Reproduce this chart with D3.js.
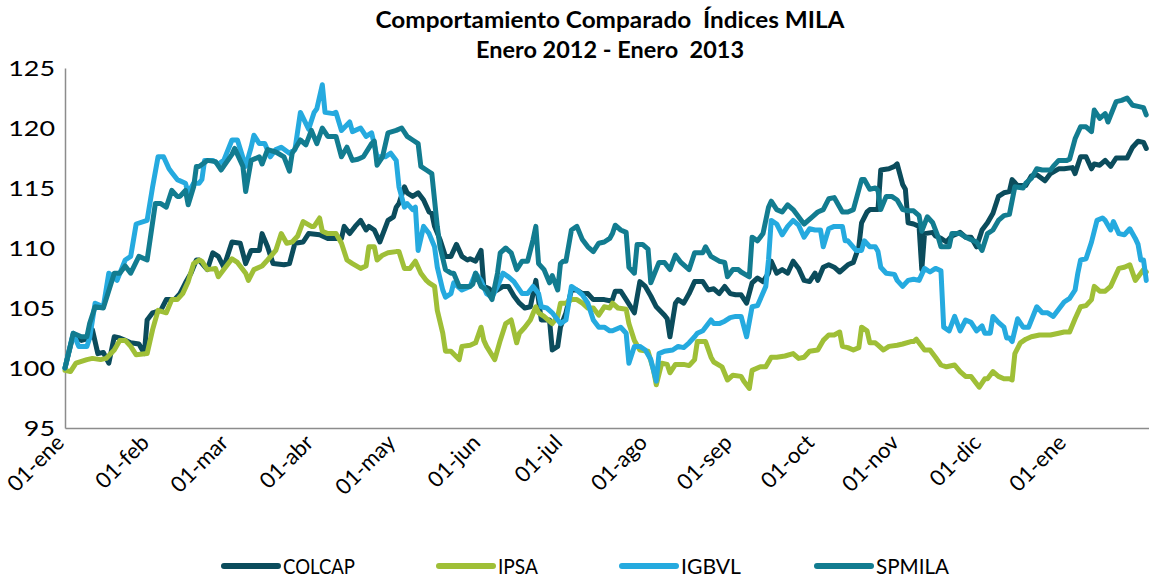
<!DOCTYPE html>
<html>
<head>
<meta charset="utf-8">
<script src="https://cdn.jsdelivr.net/npm/d3@7"></script>
<style>
  html, body { margin: 0; padding: 0; background: #fff; }
  svg { display: block; }
  text { font-family: Lato, "Open Sans", sans-serif; }
</style>
</head>
<body>
<svg id="chart" width="1149" height="578"></svg>
<script>
// ---------- DATA ----------
const titleLines = ["Comportamiento Comparado  Índices MILA", "Enero 2012 - Enero  2013"];
const seriesNames = ["COLCAP", "IPSA", "IGBVL", "SPMILA"];
const monthLabels = ["01-ene","01-feb","01-mar","01-abr","01-may","01-jun","01-jul","01-ago","01-sep","01-oct","01-nov","01-dic","01-ene"];
const yTicks = [95, 100, 105, 110, 115, 120, 125];
// [days since 01-ene-2012, index value]
const COLCAP = [[0,100],[3,102.75],[6,102.3],[9,102.5],[10,103.2],[12,101.2],[14,101.3],[16,100.4],[18,102.6],[20,102.5],[22,102.3],[24,102.1],[27,102],[29,101.2],[30,104],[32,104.6],[35,104.8],[37,105.7],[40,105.7],[42,106.2],[44,107.1],[46,107.9],[48,109],[49,109],
[52,108.2],[54,109.6],[56,109.3],[58,108.4],[61,110.5],[64,110.4],[66,108.7],[68,109.8],[71,109.8],[72,111.2],[74,110.1],[76,108.7],[80,108.6],[82,108.7],[84,110.4],[87,110.5],[89,111.2],[93,111.1],[96,110.8],[99,110.8],
[101,110.8],[102,111.8],[104,111.2],[106,111.8],[108,112.3],[110,111.5],[111,111.8],[113,111.5],[115,110.5],[118,112.3],[120,112.6],[121,113.4],[122,113.7],[124,115.1],[125,114.6],[127,114.3],[129,114.6],[131,114],[133,113],[134,112.9],[135,111.8],[137,110.7],[139,109.3],[141,109.3],[143,110.3],[145,109.3],[147,109],[148,109.1],
[150,108.9],[152,109.8],[153,106.8],[155,106.6],[156,106.3],[158,106.5],[160,106.8],[162,106.8],[164,106],[166,105.4],[168,105],[170,105.1],[172,107.3],[174,104],[177,104],[178,101.5],[180,101.8],[181,103.4],[183,104.6],[185,106.5],[187,106.5],[189,106.2],[191,106.2],[193,105.7],[195,105.7],[197,105.7],
[199,105.6],[200,105.7],[201,106.4],[203,106.4],[205,105.7],[208,104.6],[210,107.2],[212,106.8],[214,106],[216,105.1],[219,104.4],[220,104.1],[221,102.6],[223,105.4],[224,105.7],[226,105.4],[228,106.2],[230,107.2],[233,107.2],[235,106.5],[237,106.6],[239,106.2],[241,106.8],[243,106.2],[245,106.1],[247,106.1],
[249,105.4],[251,107.1],[253,107.5],[255,107.2],[257,107.9],[258,108.9],[260,107.9],[262,108.2],[264,107.9],[266,108.9],[268,108.3],[270,107.3],[272,107.2],[274,107.9],[275,107.3],[277,108.4],[279,108.6],[281,108.4],[283,108],[286,108.6],[288,108.8],[290,110.1],[291,112.1],[293,113],[294,113.2],
[297,113.2],[298,116.5],[301,116.6],[303,116.8],[304,117],[306,115.3],[307,114.9],[308,112.1],[310,112],[312,111.8],[313,108.2],[314,111.2],[317,111.3],[318,111],[320,110.8],[322,110.5],[324,111],[327,111.3],[329,110.9],[331,110.9],[333,110.1],[335,111.5],[337,112.1],[339,112.9],[341,114.3],[343,114.6],[345,114.7],
[346,115.7],[348,115.2],[351,115.2],[353,116],[355,116.1],[358,115.6],[360,116.2],[363,116.6],[365,116.6],[368,116.7],[369,116.2],[371,117.6],[373,117.6],[375,116.6],[376,117],[378,116.9],[380,117.3],[382,116.8],[384,117.5],[386,117.5],[388,117.5],[390,118.4],[392,118.9],[394,118.8],[395,118.3]];

const IPSA = [[0,99.8],[2,99.7],[4,100.4],[8,100.7],[10,100.8],[13,100.7],[15,100.8],[18,101.5],[20,102.3],[22,102.3],[24,101.8],[26,101.1],[30,101.2],[32,103.2],[34,104.8],[37,104.6],[39,105.7],[41,105.7],[43,106.2],[45,107.2],[47,108.7],[49,109],
[50,108.9],[52,108.2],[55,108.3],[56,107.6],[58,108.2],[61,109.1],[63,108.8],[66,107.9],[67,107.3],[69,108.2],[72,108.5],[74,109],[77,109.8],[79,111.2],[81,110.4],[83,110.5],[85,111],[87,112.2],[90,111.8],[91,111.8],[93,112.5],[94,111.4],[96,111.2],[99,111.2],
[101,110.4],[103,109],[105,108.7],[108,108.3],[110,108.5],[111,110.1],[113,110.1],[114,109],[116,109.4],[118,109.6],[121,109.7],[122,109.7],[124,108.3],[126,108.3],[128,108.9],[130,107.9],[132,107.3],[133,107.1],[135,106.8],[136,104.8],[138,102.9],[139,101.4],[141,101.4],[144,100.7],[145,101.8],[148,101.9],
[150,102.1],[152,103.4],[153,102.3],[154,101.8],[157,100.7],[159,102.3],[161,103.7],[163,104],[165,102.1],[166,102.9],[168,103.4],[170,104],[172,105.1],[173,104.6],[175,104.3],[178,103.7],[180,104.3],[181,105.4],[183,105.4],[185,105.7],[187,105.7],[189,105.4],[191,105],[193,105],[195,104.4],[197,105.1],
[199,105],[200,105.4],[202,105],[205,104.9],[206,103.7],[208,102.3],[210,101.5],[213,101.4],[215,99.8],[216,98.6],[218,100.4],[220,100.3],[221,99.6],[223,100.3],[226,100.3],[228,100.2],[230,100.7],[231,102.2],[234,102.2],[236,100.9],[237,100.5],[240,100.1],[242,99],[244,99.4],[247,99.3],
[248,98.9],[250,98.3],[251,99.8],[254,100.1],[256,100.1],[258,100.9],[260,100.9],[263,101],[266,101.2],[268,100.8],[270,100.9],[272,101.4],[275,101.5],[277,102.3],[279,102.75],[281,102.75],[283,103],[284,101.8],[286,101.7],[288,101.5],[290,101.7],[291,103.4],[293,103.1],[294,102.1],[296,102.1],
[297,101.9],[299,101.5],[301,101.8],[304,101.9],[306,102],[309,102.2],[310,102.2],[311,102.4],[314,101.5],[316,101.5],[318,100.9],[320,100.25],[322,100.1],[325,100.25],[327,99.7],[329,99.3],[331,99.3],[334,98.4],[336,99.1],[337,99.1],[339,99.7],[341,99.3],[343,99.1],[345,99.1],
[346,99],[347,101.2],[349,102.1],[351,102.4],[353,102.6],[356,102.75],[360,102.75],[363,102.9],[365,103],[367,103],[369,104.1],[371,105.1],[373,105.2],[375,105.7],[376,106.8],[378,106.4],[380,106.4],[382,106.8],[383,107.3],[385,108.3],[387,108.4],[389,108.6],[391,107.3],[393,107.9],[394,108.2],[395,108]];

const IGBVL = [[0,100],[3,102.9],[5,101.8],[8,101.8],[9,102.5],[11,105.4],[14,105.1],[16,107.9],[19,107.3],[22,109],[24,109.3],[26,112],[30,112.3],[32,115.1],[34,117.6],[36,117.6],[38,116.6],[39,116.3],[41,115.7],[44,115.4],[45,114.6],[47,115.4],[49,115.4],
[50,115.7],[51,117.3],[54,117.3],[56,117],[58,117.3],[61,119],[63,119],[66,116.8],[68,118.4],[69,119.4],[71,118.7],[73,118.7],[75,117.6],[77,118.2],[79,118.4],[82,117.9],[84,118.2],[86,121.3],[89,119.9],[91,121.3],[92,121.6],[94,123.6],[95,121.3],[98,121.2],
[99,121.3],[101,119.8],[104,120.5],[105,119.7],[108,120],[110,119.3],[112,119.6],[114,117.6],[117,117.6],[119,117.9],[121,117.3],[122,115.1],[124,113.4],[125,113.7],[127,113.2],[128,113.4],[129,109.8],[131,111.8],[133,111.2],[135,110.1],[136,108.4],[138,106.5],[139,105.9],[141,106.2],[142,107.1],[145,106.5],[148,106.8],
[150,107.9],[152,107.3],[154,106.2],[156,105.9],[158,106.8],[160,107.9],[162,107.6],[164,107.2],[167,106.2],[169,106.2],[171,106.8],[173,106.2],[174,105.1],[176,105],[178,104.6],[180,104],[181,103.7],[183,104],[185,106.8],[187,106.5],[189,106.1],[191,105.4],[193,104],[195,103.4],[197,103.4],
[199,103.1],[200,103.1],[203,103.4],[205,102.9],[206,100.4],[208,101.8],[210,101.8],[212,101.5],[214,100.7],[216,98.9],[217,101.2],[219,101.4],[222,101.5],[224,101.8],[226,101.7],[228,102.1],[230,102.6],[231,102.9],[233,103.1],[236,104],[237,103.7],[239,103.7],[241,103.9],[243,104.2],[245,104.3],[247,104.3],
[249,102.6],[251,105.1],[253,105.2],[256,106.8],[257,109],[258,112.3],[260,112],[262,111.1],[264,111.8],[266,112.3],[268,111.9],[270,110.9],[272,111.6],[274,111.5],[276,111.5],[277,110.1],[279,111.6],[281,111.8],[284,111.8],[285,110.6],[286,110.6],[289,109.8],[291,109.8],[292,110.6],[294,110.1],[296,110.1],
[297,109.7],[298,108.4],[300,107.9],[303,107.8],[304,107.3],[306,106.8],[308,107.3],[310,107.4],[312,107.3],[314,108.3],[316,108],[318,108.3],[320,108.1],[321,103.4],[323,103.1],[325,104.3],[327,103.1],[329,104],[331,103.8],[333,103.1],[335,103.5],[336,102.9],[338,102.9],[339,104.3],[341,103.8],[343,103.4],[344,102.5],[345,102.5],
[346,102.2],[348,104.1],[350,103.4],[352,103.4],[355,105.1],[357,104.6],[359,104.6],[361,104.3],[363,104.9],[365,105.5],[367,105.8],[369,106.5],[370,107.9],[371,109],[373,109.1],[375,110.5],[377,112.3],[379,112.5],[380,112.3],[382,111.5],[383,112.2],[385,111.2],[387,111.1],[389,111.6],[391,110.8],[392,110.3],[393,109],[394,109],[395,107.3]];

const SPMILA = [[0,100],[3,102.9],[6,102.6],[8,102.6],[9,103.7],[11,105.1],[14,105],[18,107.9],[20,107.9],[22,108.5],[24,107.9],[27,109.3],[30,109],[33,113.7],[35,113.7],[37,113.4],[39,114.8],[41,114.3],[42,114.3],[44,114.8],[45,113.6],[47,115.1],[48,116.8],[49,116.8],
[52,117.3],[55,117.2],[57,116.5],[61,117.8],[62,118.3],[64,117.3],[65,116.8],[66,114.7],[68,117.3],[71,117.6],[72,117],[74,118.2],[77,118],[80,117.6],[82,116.4],[83,117.9],[86,119],[88,118.6],[90,119.8],[92,118.7],[94,120],[96,119.3],[99,119.3],
[101,117.6],[103,118.4],[105,117.3],[107,117.4],[109,117.6],[112,118.7],[113,118.9],[114,116.9],[116,117.6],[118,119.6],[121,119.8],[123,120],[125,119.3],[127,119],[129,118.7],[130,116.8],[132,116.5],[134,116.2],[135,114],[136,111.8],[137,110.1],[139,108.2],[141,107.9],[142,107.9],[144,106.8],[146,106.8],[148,106.8],
[149,107],[150,107.9],[152,106.8],[154,106.5],[156,105.7],[158,107.9],[159,109.6],[161,110],[163,109.6],[165,108.2],[167,108.9],[169,108.9],[171,110.7],[172,111.8],[173,108.7],[175,108.2],[177,107.1],[178,107.7],[180,106.5],[181,108.7],[182,108.9],[183,108.9],[185,111.5],[187,111.8],[189,110.7],[191,110.1],[193,109.7],[195,110.4],[197,110.5],
[199,110.8],[200,111.2],[201,111.9],[203,111.5],[205,111.3],[206,108.4],[208,107.9],[209,110.3],[211,110.3],[213,109.9],[214,107.1],[217,108.8],[219,108.8],[221,108.2],[223,109.4],[225,108.8],[228,108.2],[230,109.6],[233,109.6],[234,110.1],[236,109.3],[239,108.9],[241,108.8],[242,107.6],[244,108.2],[246,108.2],
[247,108],[250,107.6],[251,110.9],[253,110.6],[255,111.2],[257,113.4],[258,113.9],[260,113.2],[262,113],[264,113.6],[266,113.2],[269,112.3],[270,112],[273,112.6],[275,113],[277,113.2],[279,114.1],[281,114.2],[284,113],[286,113],[288,113.2],[291,115.7],[292,115.7],[294,114.9],[296,115],
[297,114.8],[298,113.2],[300,114.3],[302,114.3],[304,114],[306,113.2],[308,113.1],[310,113.1],[312,112.7],[313,111.4],[315,112.6],[317,112.1],[319,110.9],[320,110.1],[323,110.1],[324,111.2],[327,111.2],[329,110.9],[331,110.7],[333,110.5],[335,109.8],[337,111.2],[339,111.5],[341,112.3],[343,112.7],[345,112.8],
[347,115.1],[350,115],[351,115.4],[353,115.8],[355,116.6],[357,116.5],[360,116.5],[361,116.8],[363,117.3],[366,117.3],[367,117.4],[369,119.1],[371,120.1],[373,120.1],[375,119.7],[376,121.5],[378,120.8],[380,121.2],[381,120.5],[384,122.2],[386,122.3],[388,122.5],[390,121.9],[392,121.8],[394,121.7],[395,121.1]];

const seriesData = [COLCAP, IPSA, IGBVL, SPMILA];
const seriesColors = ["#0b4c5c", "#9fbf37", "#25aadf", "#127c90"];

// ---------- LAYOUT ----------
const plot = { left: 65, right: 1149, top: 68, bottom: 428 };
const startDate = new Date(2012, 0, 1);
const endDate = new Date(2013, 0, 31);

const svg = d3.select("#chart");

const x = d3.scaleTime().domain([startDate, endDate]).range([plot.left, plot.right]);
const y = d3.scaleLinear().domain([95, 125]).range([plot.bottom, plot.top]);
const toDate = d => d3.timeDay.offset(startDate, d);

// Title (reference type is wider than Lato: stretch to the same width)
const titleWidths = [469, 268];
svg.append("g").selectAll("text").data(titleLines).join("text")
  .attr("x", 610).attr("y", (d, i) => 28 + i * 30)
  .attr("text-anchor", "middle")
  .attr("font-size", 22).attr("font-weight", "bold")
  .attr("fill", "#000")
  .attr("textLength", (d, i) => titleWidths[i])
  .attr("lengthAdjust", "spacingAndGlyphs")
  .style("white-space", "pre")
  .text(d => d);

// Y axis
const yAxis = svg.append("g").attr("transform", `translate(${plot.left},0)`)
  .call(d3.axisLeft(y).tickValues(yTicks).tickSize(0).tickPadding(10).tickFormat(d3.format("d")));
yAxis.select(".domain").attr("stroke", "#8c8c8c").attr("stroke-width", 1.5);
yAxis.selectAll("text")
  .attr("font-size", 22).attr("fill", "#000").attr("font-family", "Lato, sans-serif")
  .attr("textLength", d => String(d).length * 15.6)
  .attr("lengthAdjust", "spacingAndGlyphs");

// X axis
const monthTicks = d3.timeMonth.range(startDate, new Date(2013, 0, 2));
const xAxis = svg.append("g").attr("transform", `translate(0,${plot.bottom})`)
  .call(d3.axisBottom(x).tickValues(monthTicks).tickSize(0).tickFormat((d, i) => monthLabels[i]));
xAxis.select(".domain").attr("stroke", "#8c8c8c").attr("stroke-width", 1.5);
xAxis.selectAll("text")
  .attr("font-size", 22).attr("fill", "#000").attr("font-family", "Lato, sans-serif")
  .attr("text-anchor", "end")
  .attr("dy", null).attr("y", null)
  .attr("transform", "translate(0,16) rotate(-45)");

// Lines
const line = d3.line()
  .x(d => x(toDate(d[0])))
  .y(d => y(d[1]));

svg.append("g").selectAll("path").data(seriesData).join("path")
  .attr("d", line)
  .attr("fill", "none")
  .attr("stroke", (d, i) => seriesColors[i])
  .attr("stroke-width", 5)
  .attr("stroke-linejoin", "round")
  .attr("stroke-linecap", "round");

// Legend (condensed type in the reference)
const legendX = [222, 437, 620, 815];
const legendTextW = [72, 40, 60, 73];
const legend = svg.append("g").selectAll("g").data(seriesNames).join("g")
  .attr("transform", (d, i) => `translate(${legendX[i]},566)`);
legend.append("line")
  .attr("x1", 2).attr("x2", 56).attr("y1", 0).attr("y2", 0)
  .attr("stroke", (d, i) => seriesColors[i]).attr("stroke-width", 6)
  .attr("stroke-linecap", "round");
legend.append("text")
  .attr("x", 61).attr("y", 0).attr("dy", "0.36em")
  .attr("font-size", 22).attr("fill", "#000")
  .attr("textLength", (d, i) => legendTextW[i])
  .attr("lengthAdjust", "spacingAndGlyphs")
  .text(d => d);
</script>
</body>
</html>
